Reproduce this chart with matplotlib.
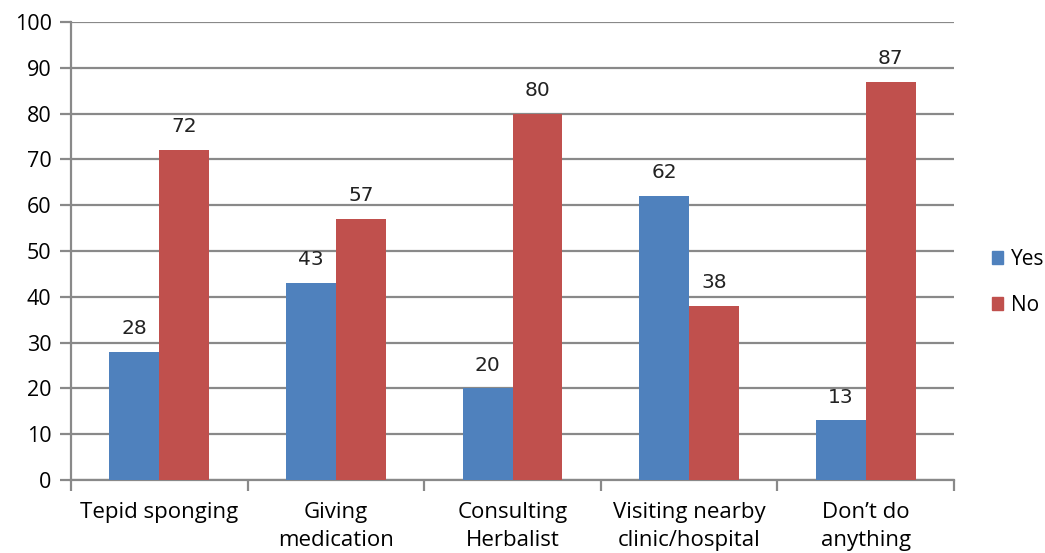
import matplotlib.pyplot as plt
import numpy as np
from matplotlib.patches import Patch

categories = ["Tepid sponging", "Giving\nmedication", "Consulting\nHerbalist",
              "Visiting nearby\nclinic/hospital", "Don\u2019t do\nanything"]
yes_vals = [28, 43, 20, 62, 13]
no_vals = [72, 57, 80, 38, 87]
yticks = list(range(0, 101, 10))

blue = "#4F81BD"
red = "#C0504D"
grid_c = "#898989"

plt.rcParams['font.family'] = ['Open Sans', 'DejaVu Sans']

fig = plt.figure(figsize=(10.45, 5.53), dpi=100)
ax = fig.add_axes([71/1045, 1-480/553, (954-71)/1045, (480-22)/553])

x = np.arange(len(categories))
w = 0.283
b1 = ax.bar(x - w/2, yes_vals, w, color=blue, zorder=3)
b2 = ax.bar(x + w/2, no_vals, w, color=red, zorder=3)

for bars, vals in ((b1, yes_vals), (b2, no_vals)):
    for r, v in zip(bars, vals):
        ax.text(r.get_x() + r.get_width()/2, v + 3.0, str(v), ha='center',
                va='bottom', fontsize=14.5, family='DejaVu Sans', color='#222222')

ax.set_xlim(-0.5, len(categories) - 0.5)
ax.set_ylim(0, 100)
ax.set_yticks(yticks)
ax.set_yticklabels([str(t) for t in yticks], fontsize=15.5)
ax.yaxis.grid(True, color=grid_c, linewidth=1.6, zorder=0)
ax.tick_params(axis='y', length=8, width=1.6, color=grid_c, pad=6)

ax.set_xticks(x)
ax.set_xticklabels(categories, fontsize=16, linespacing=1.4)
ax.tick_params(axis='x', length=0, pad=16)
ax.set_xticks(np.arange(-0.5, len(categories), 1.0), minor=True)
ax.tick_params(axis='x', which='minor', length=8, width=1.6, color=grid_c)

for s in ('top', 'right'):
    ax.spines[s].set_visible(False)
for s in ('left', 'bottom'):
    ax.spines[s].set_color(grid_c)
    ax.spines[s].set_linewidth(1.6)

handles = [Patch(color=blue, label='Yes'), Patch(color=red, label='No')]
fig.legend(handles=handles, loc='center left', bbox_to_anchor=(992/1045, 0.489),
           frameon=False, fontsize=15, handlelength=0.55, handleheight=0.55,
           handletextpad=0.35, labelspacing=1.2, borderaxespad=0, borderpad=0)

fig.savefig('out.png', dpi=100)
